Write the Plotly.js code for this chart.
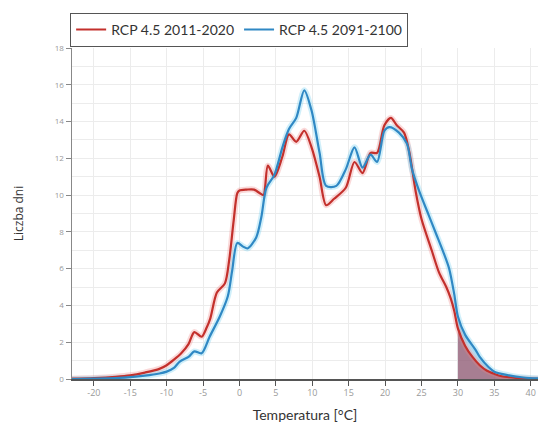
<!DOCTYPE html>
<html>
<head>
<meta charset="utf-8">
<script src="https://cdn.plot.ly/plotly-3.0.1.min.js"></script>
<style>html,body{margin:0;padding:0;background:#fff;}#chart{width:538px;height:428px;}</style>
</head>
<body>
<div id="chart"></div>
<script>
// Series names
const seriesNames = ["RCP 4.5 2011-2020", "RCP 4.5 2091-2100"];

// RCP 4.5 2011-2020 (red)
const tempRed = [-23, -20, -17, -15, -13, -11, -10, -9, -8, -7, -6.2, -5.2, -4.5, -4, -3.1, -2, -1.4, -0.8, -0.3, 0, 1, 2, 2.8, 3.3, 3.9, 4.8, 5.9, 6.8, 7.8, 8.9, 9.9, 11, 11.9, 13, 14.6, 15.8, 16.9, 18, 18.9, 19.9, 20.8, 21.6, 22.6, 23.3, 24.2, 25, 26.4, 27.4, 28.4, 29, 29.5, 30, 31, 32, 33, 34, 35, 36, 38, 40, 41];
const daysRed = [0.02, 0.05, 0.12, 0.2, 0.35, 0.55, 0.75, 1.05, 1.4, 1.9, 2.55, 2.3, 2.8, 3.3, 4.7, 5.2, 6.5, 8.6, 10.1, 10.25, 10.3, 10.3, 10.1, 10.0, 11.6, 11.0, 12.1, 13.3, 12.9, 13.5, 12.6, 11.0, 9.45, 9.8, 10.4, 11.8, 11.2, 12.3, 12.3, 13.8, 14.2, 13.8, 13.4, 12.4, 10.2, 8.7, 7.0, 5.8, 5.0, 4.4, 3.7, 2.75, 1.8, 1.2, 0.75, 0.45, 0.28, 0.15, 0.06, 0.02, 0.01];

// RCP 4.5 2091-2100 (blue)
const tempBlue = [-23, -20, -17, -15, -13, -11, -10, -9, -8.2, -7, -6.2, -5.2, -4.1, -2.7, -1.6, -1, -0.3, 0.5, 1.1, 2.3, 3, 3.7, 4.8, 5.9, 6.8, 7.8, 8.9, 9.9, 11, 11.9, 13.3, 14.6, 15.8, 16.9, 18, 18.9, 19.9, 20.6, 21.9, 23, 23.7, 24.7, 26, 27, 28, 28.8, 29.5, 30, 31, 32.4, 33, 34.2, 35, 37, 39, 41];
const daysBlue = [0, 0.02, 0.05, 0.1, 0.18, 0.3, 0.4, 0.6, 0.95, 1.2, 1.5, 1.4, 2.3, 3.4, 4.5, 5.9, 7.4, 7.2, 7.1, 7.7, 8.8, 10.4, 11.1, 12.6, 13.6, 14.2, 15.7, 14.6, 12.3, 10.5, 10.5, 11.4, 12.6, 11.5, 12.2, 11.8, 13.5, 13.7, 13.4, 12.8, 11.4, 10.2, 8.9, 7.9, 6.9, 6.0, 4.6, 3.4, 2.4, 1.6, 1.2, 0.65, 0.4, 0.2, 0.08, 0.03];

// threshold for shaded hot days
const hotThreshold = 30;

// tick labels
const xTicks = [-20, -15, -10, -5, 0, 5, 10, 15, 20, 25, 30, 35, 40];
const yTicks = [0, 2, 4, 6, 8, 10, 12, 14, 16, 18];

const RED = "#c3302c";
const BLUE = "#2f88c4";

function tail(xs, ys) {
  const tx = [], ty = [];
  for (let i = 0; i < xs.length; i++) {
    if (xs[i] >= hotThreshold) { tx.push(xs[i]); ty.push(ys[i]); }
  }
  return {x: tx, y: ty};
}
const tB = tail(tempBlue, daysBlue);
const tR = tail(tempRed, daysRed);

const traces = [
  {x: tB.x, y: tB.y, type: "scatter", mode: "lines", line: {color: "rgba(0,0,0,0)", width: 0, shape: "spline"},
   fill: "tozeroy", fillcolor: "rgba(140,200,235,0.55)", showlegend: false, hoverinfo: "skip"},
  {x: tR.x, y: tR.y, type: "scatter", mode: "lines", line: {color: "rgba(120,30,50,0.8)", width: 1, shape: "spline"},
   fill: "tozeroy", fillcolor: "rgba(150,60,80,0.6)", showlegend: false, hoverinfo: "skip"},
  {x: tempRed, y: daysRed, type: "scatter", mode: "lines", line: {color: "rgba(240,130,130,0.3)", width: 6, shape: "spline", smoothing: 0.8}, showlegend: false, hoverinfo: "skip"},
  {x: tempBlue, y: daysBlue, type: "scatter", mode: "lines", line: {color: "rgba(120,210,240,0.35)", width: 6, shape: "spline", smoothing: 0.8}, showlegend: false, hoverinfo: "skip"},
  {x: tempRed, y: daysRed, type: "scatter", mode: "lines", name: seriesNames[0], line: {color: RED, width: 2.2, shape: "spline", smoothing: 0.8}},
  {x: tempBlue, y: daysBlue, type: "scatter", mode: "lines", name: seriesNames[1], line: {color: BLUE, width: 2.2, shape: "spline", smoothing: 0.8}}
];

const layout = {
  width: 538, height: 428,
  margin: {l: 72, r: 0, t: 48, b: 49},
  paper_bgcolor: "#fff", plot_bgcolor: "#fff",
  font: {family: "Open Sans, DejaVu Sans, sans-serif", color: "#333"},
  showlegend: true,
  legend: {
    orientation: "h", x: -0.004, xanchor: "left", y: 1.106, yanchor: "top",
    bordercolor: "#555", borderwidth: 1, bgcolor: "#fff",
    font: {family: "Lato, Open Sans, sans-serif", size: 14, color: "#333"},
    itemwidth: 30, tracegroupgap: 0
  },
  xaxis: {
    range: [-23, 41], tickvals: xTicks, ticktext: xTicks.map(String),
    showgrid: true, gridcolor: "#ececec", gridwidth: 1,
    showline: true, linecolor: "#555", linewidth: 1.5,
    ticks: "outside", ticklen: 5, tickcolor: "#555", tickwidth: 1,
    zeroline: false, tickfont: {size: 9, color: "#999"},
    title: {text: "Temperatura [°C]", font: {family: "Lato, Open Sans, sans-serif", size: 14, color: "#333"}, standoff: 12}
  },
  yaxis: {
    range: [0, 18], tickvals: yTicks, ticktext: yTicks.map(String),
    showgrid: true, gridcolor: "#ececec", gridwidth: 1,
    minor: {dtick: 1, showgrid: true, gridcolor: "#ececec", gridwidth: 1},
    showline: true, linecolor: "#888", linewidth: 1.5,
    ticks: "outside", ticklen: 5, tickcolor: "#888", tickwidth: 1,
    zeroline: false, tickfont: {size: 8, color: "#999"},
    title: {text: "Liczba dni", font: {family: "Open Sans, sans-serif", size: 12, color: "#333"}, standoff: 28}
  }
};

Plotly.newPlot("chart", traces, layout, {displayModeBar: false, staticPlot: true});
</script>
</body>
</html>
